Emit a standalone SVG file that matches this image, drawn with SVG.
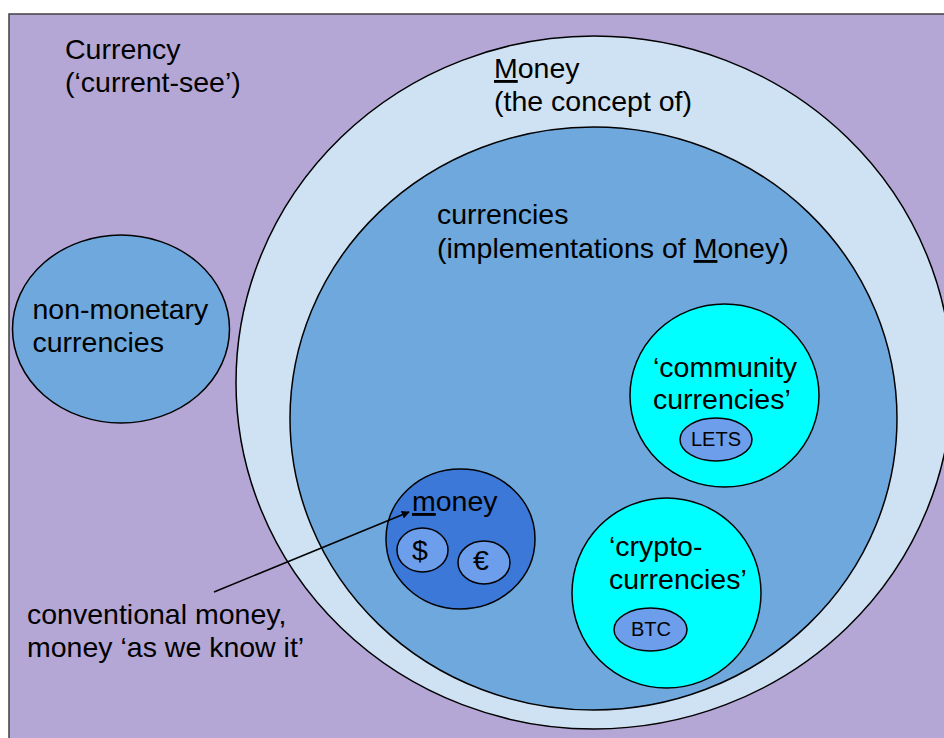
<svg xmlns="http://www.w3.org/2000/svg" width="944" height="738" viewBox="0 0 944 738">
<defs>
<style>
text{font-family:"Liberation Sans",Arial,sans-serif;fill:#000}
.t{font-size:28.5px}
.s{font-size:20px}
.u{text-decoration:underline}
.e{stroke:#000;stroke-width:1.5}
</style>
<marker id="ah" viewBox="0 0 10 10" refX="9" refY="5" markerWidth="8" markerHeight="8" markerUnits="userSpaceOnUse" orient="auto">
<path d="M0,0 L10,5 L0,10 z" fill="#000"/>
</marker>
</defs>
<rect width="944" height="738" fill="#ffffff"/>
<g id="currency">
<rect x="9" y="14" width="950" height="740" fill="#b4a7d6" stroke="#404040" stroke-width="1.5"/>
<text class="t" x="65" y="59">Currency</text>
<text class="t" x="65" y="92">(‘current-see’)</text>
</g>
<g id="money-concept">
<ellipse class="e" cx="594" cy="382.5" rx="358" ry="346.5" fill="#cfe2f3"/>
<text class="t" x="494" y="78"><tspan class="u">M</tspan>oney</text>
<text class="t" x="494" y="111">(the concept of)</text>
</g>
<g id="currencies">
<ellipse class="e" cx="593.5" cy="418.5" rx="303.5" ry="291.5" fill="#6fa8dc"/>
<text class="t" x="437" y="224">currencies</text>
<text class="t" x="437" y="258">(implementations of <tspan class="u">M</tspan>oney)</text>
</g>
<g id="non-monetary">
<ellipse class="e" cx="121" cy="329" rx="108.5" ry="94" fill="#6fa8dc"/>
<text class="t" x="32.5" y="319">non-monetary</text>
<text class="t" x="32.5" y="352">currencies</text>
</g>
<g id="community">
<ellipse class="e" cx="724.5" cy="395.5" rx="94.5" ry="91.5" fill="#00ffff"/>
<text class="t" x="653" y="377">‘community</text>
<text class="t" x="653" y="409">currencies’</text>
</g>
<g id="lets">
<ellipse class="e" cx="716" cy="439.5" rx="36" ry="21.5" fill="#6d9eeb"/>
<text class="s" x="716" y="446" text-anchor="middle">LETS</text>
</g>
<g id="crypto">
<ellipse class="e" cx="666.5" cy="593" rx="94.5" ry="95" fill="#00ffff"/>
<text class="t" x="609" y="556">‘crypto-</text>
<text class="t" x="609" y="589">currencies’</text>
</g>
<g id="btc">
<ellipse class="e" cx="650.5" cy="629.5" rx="36.5" ry="21.5" fill="#6d9eeb"/>
<text class="s" x="651" y="636" text-anchor="middle">BTC</text>
</g>
<g id="money">
<ellipse class="e" cx="460.5" cy="539" rx="74.5" ry="70" fill="#3c78d8"/>
<text class="t" x="412" y="511"><tspan class="u">m</tspan>oney</text>
</g>
<g id="dollar">
<ellipse class="e" cx="422.5" cy="550" rx="25.5" ry="22" fill="#6d9eeb"/>
<text class="t" x="420" y="560" text-anchor="middle">$</text>
</g>
<g id="euro">
<ellipse class="e" cx="484" cy="562.5" rx="26" ry="21.5" fill="#6d9eeb"/>
<text class="t" x="481" y="570" text-anchor="middle">€</text>
</g>
<g id="conventional">
<text class="t" x="27" y="624">conventional money,</text>
<text class="t" x="27" y="657">money ‘as we know it’</text>
</g>
<g id="connectors">
<line x1="214" y1="592" x2="409" y2="512" stroke="#000" stroke-width="1.5" marker-end="url(#ah)"/>
</g>
</svg>
